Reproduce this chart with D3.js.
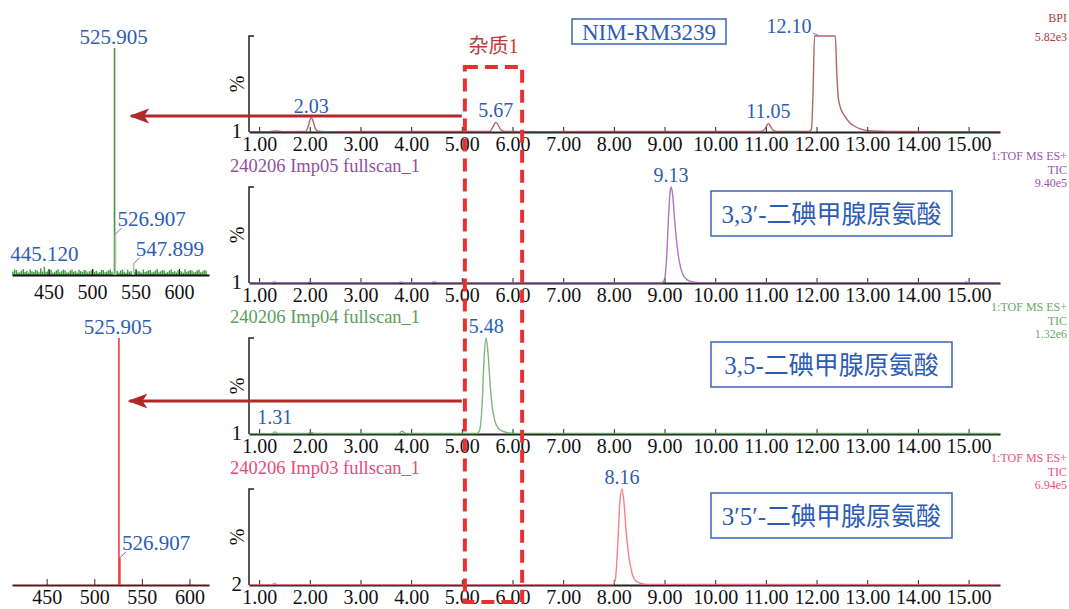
<!DOCTYPE html>
<html>
<head>
<meta charset="utf-8">
<script src="https://cdn.jsdelivr.net/npm/d3@7"></script>
<style>
  body { margin: 0; background: #fff; }
  svg { display: block; }
</style>
</head>
<body>
<svg width="1069" height="609"></svg>
<script>
// ---- data ----
const rtTicks = [1, 2, 3, 4, 5, 6, 7, 8, 9, 10, 11, 12, 13, 14, 15];
const msTicks = [450, 500, 550, 600];

// retention time (min), intensity (%)
const bpiTrace = [
  [0.82, 0.4], [1.2, 0.4], [1.35, 1.2], [1.45, 0.4], [1.92, 0.5], [1.97, 6], [2.0, 12], [2.03, 15],
  [2.06, 12], [2.1, 5], [2.16, 0.8], [2.3, 0.4], [4.5, 0.5], [5.55, 0.5], [5.6, 4], [5.64, 8],
  [5.67, 10], [5.71, 8], [5.76, 3], [5.83, 0.6], [6.5, 0.4], [9.0, 0.5], [10.9, 0.5], [10.98, 3],
  [11.02, 7], [11.05, 9], [11.09, 6], [11.14, 2], [11.22, 0.6], [11.85, 0.6], [11.9, 3], [11.93, 40],
  [11.96, 100], [12.37, 100], [12.4, 60], [12.43, 35], [12.48, 24], [12.55, 17], [12.65, 10],
  [12.75, 6], [12.85, 3.5], [12.95, 2], [13.1, 1], [13.4, 0.5], [15.6, 0.4]
];
const imp05Trace = [
  [0.82, 0.3], [1.25, 0.3], [1.3, 1.2], [1.36, 0.3], [1.95, 0.3], [2.0, 1.0], [2.06, 0.3],
  [3.75, 0.3], [3.8, 1.0], [3.86, 0.3], [4.4, 0.3], [4.45, 1.2], [4.52, 0.3], [8.95, 0.3],
  [9.0, 4], [9.04, 25], [9.08, 70], [9.11, 95], [9.13, 100], [9.16, 92], [9.2, 65], [9.25, 38],
  [9.3, 20], [9.36, 9], [9.44, 3.5], [9.55, 1.2], [9.7, 0.4], [14.9, 0.4], [14.95, 1.0],
  [15.0, 0.4], [15.6, 0.3]
];
const imp04Trace = [
  [0.82, 0.4], [1.25, 0.4], [1.31, 2.2], [1.38, 0.5], [1.95, 0.5], [2.02, 2.0], [2.1, 0.5],
  [3.75, 0.5], [3.82, 2.8], [3.9, 0.5], [5.3, 0.5], [5.35, 4], [5.4, 30], [5.44, 80], [5.48, 100],
  [5.52, 82], [5.56, 50], [5.6, 28], [5.65, 14], [5.72, 6], [5.8, 3], [5.9, 1.5], [6.05, 0.6],
  [15.6, 0.5]
];
const imp03Trace = [
  [0.82, 0.4], [1.25, 0.4], [1.3, 1.5], [1.36, 0.4], [7.98, 0.4], [8.03, 6], [8.08, 45],
  [8.12, 88], [8.16, 100], [8.2, 86], [8.24, 58], [8.29, 32], [8.35, 14], [8.42, 5], [8.52, 1.8],
  [8.65, 0.6], [15.6, 0.4]
];

// labelled peaks: retention time, intensity (%)
const bpiPeaks = [[2.03, 15], [5.67, 10], [11.05, 9], [12.10, 100]];
const imp05Peaks = [[9.13, 100]];
const imp04Peaks = [[1.31, 2.2], [5.48, 100]];
const imp03Peaks = [[8.16, 100]];

const traceTitles = [null, "240206 Imp05 fullscan_1", "240206 Imp04 fullscan_1", "240206 Imp03 fullscan_1"];
const traceHeaders = [
  ["BPI", "5.82e3"],
  ["1:TOF MS ES+", "TIC", "9.40e5"],
  ["1:TOF MS ES+", "TIC", "1.32e6"],
  ["1:TOF MS ES+", "TIC", "6.94e5"]
];
const yLabels = ["1", "1", "1", "2"];
const compoundNames = [null, "3,3′-二碘甲腺原氨酸", "3,5-二碘甲腺原氨酸", "3′5′-二碘甲腺原氨酸"];

// mass spectra: m/z, intensity (%)
const msTopPeaks = [[525.905, 100], [526.907, 18], [547.899, 5]];
const msTopNoise = [
  [409, 1.5], [411, 2.4], [413, 2.2], [415, 1.1], [417, 1.2], [419, 2.0], [421, 2.6], [423, 1.3],
  [425, 1.8], [427, 1.0], [429, 2.4], [431, 1.6], [433, 1.3], [435, 2.2], [437, 2.0], [439, 1.2],
  [441, 3.0], [443, 1.5], [445.12, 3.6], [447, 1.4], [449, 1.6], [451, 2.3], [453, 2.2], [455, 1.0],
  [457, 1.4], [459, 2.0], [461, 2.5], [463, 1.2], [465, 1.7], [467, 2.4], [469, 2.1], [471, 1.1],
  [473, 1.2], [475, 2.0], [477, 2.4], [479, 1.4], [481, 1.8], [483, 1.0], [485, 2.3], [487, 1.7],
  [489, 1.4], [491, 2.2], [493, 2.0], [495, 1.1], [497, 1.6], [499, 2.0], [501, 2.5], [503, 1.3],
  [505, 1.9], [507, 1.0], [509, 1.3], [511, 2.3], [513, 2.2], [515, 1.2], [517, 1.5], [519, 2.1],
  [521, 2.4], [523, 1.4], [529, 1.8], [531, 1.1], [533, 2.0], [535, 2.4], [537, 1.4], [539, 1.0],
  [541, 2.3], [543, 1.5], [545, 1.6], [549, 1.2], [551, 2.1], [553, 1.6], [555, 1.5], [557, 1.0],
  [559, 2.4], [561, 1.3], [563, 1.7], [565, 2.1], [567, 2.2], [569, 1.1], [571, 1.4], [573, 2.0],
  [575, 2.6], [577, 1.2], [579, 1.6], [581, 2.2], [583, 2.0], [585, 1.0], [587, 1.3], [589, 2.0],
  [591, 2.4], [593, 1.3], [595, 1.7], [597, 1.1], [599, 2.2], [601, 1.8], [603, 1.5], [605, 1.0],
  [607, 2.5], [609, 1.4], [611, 1.8], [613, 2.2], [615, 2.0], [617, 1.1], [619, 1.4], [621, 2.0],
  [623, 2.3], [625, 1.2], [627, 1.6], [629, 2.1], [631, 2.0]
];
const msBottomPeaks = [[525.905, 100], [526.907, 11]];

// ---- layout ----
const serif = "'Liberation Serif', 'Times New Roman', serif";
const cjk = "'Liberation Serif', 'Noto Sans CJK SC', serif";
const blue = "#2d5cb5";

const svg = d3.select("svg");

const xScale = d3.scaleLinear().domain([0.8, 15.62]).range([249, 1000]);
const panelTops = [36, 187, 338, 489];
const panelH = 96;

const traces = [bpiTrace, imp05Trace, imp04Trace, imp03Trace];
const peaks = [bpiPeaks, imp05Peaks, imp04Peaks, imp03Peaks];
const traceColors = ["#a8474d", "#9d5fb0", "#66a866", "#f06a7c"];
const headerColors = ["#b03a3a", "#9a55aa", "#6aa86a", "#f0507a"];
const titleColors = [null, "#9050a0", "#5c9c5c", "#e84a78"];

traces.forEach((trace, i) => {
  const top = panelTops[i];
  const base = top + panelH;
  const yScale = d3.scaleLinear().domain([0, 100]).range([base, top]);
  const g = svg.append("g");

  // y axis line with little cap at top
  g.append("path")
    .attr("d", `M${xScale.range()[0] + 5},${top} H${xScale.range()[0]} V${base}`)
    .attr("fill", "none").attr("stroke", "#222").attr("stroke-width", 1.5);

  // x axis
  const xAxis = d3.axisBottom(xScale)
    .tickValues(rtTicks)
    .tickSize(-5)
    .tickPadding(5)
    .tickSizeOuter(0)
    .tickFormat(d => d.toFixed(2));
  const ax = g.append("g")
    .attr("transform", `translate(0, ${base})`)
    .call(xAxis);
  ax.select(".domain").attr("stroke", "#222").attr("stroke-width", 2);
  ax.selectAll(".tick line").attr("stroke", "#222");
  ax.selectAll(".tick text")
    .attr("font-family", serif).attr("font-size", 20).attr("fill", "#111")
    .attr("dy", "0.71em");

  // trace
  const line = d3.line()
    .x(d => xScale(d[0]))
    .y(d => yScale(d[1]))
    .curve(d3.curveMonotoneX);
  g.append("path")
    .datum(trace)
    .attr("d", line)
    .attr("fill", "none")
    .attr("stroke", traceColors[i])
    .attr("stroke-opacity", 0.85)
    .attr("stroke-width", 1.4);

  // y labels
  g.append("text")
    .attr("x", 242).attr("y", base + 6)
    .attr("text-anchor", "end")
    .attr("font-family", serif).attr("font-size", 21).attr("fill", "#111")
    .text(yLabels[i]);
  g.append("text")
    .attr("transform", `translate(244, ${top + panelH / 2}) rotate(-90)`)
    .attr("text-anchor", "middle")
    .attr("font-family", serif).attr("font-size", 20).attr("fill", "#111")
    .text("%");

  // peak labels
  peaks[i].forEach(p => {
    const px = xScale(p[0]);
    const py = yScale(p[1]);
    if (p[0] === 12.10) {
      g.append("text")
        .attr("x", px - 10).attr("y", py - 3)
        .attr("text-anchor", "end")
        .attr("font-family", serif).attr("font-size", 20).attr("fill", blue)
        .text(p[0].toFixed(2));
      g.append("line")
        .attr("x1", px - 9).attr("y1", py - 3).attr("x2", px - 2).attr("y2", py)
        .attr("stroke", "#7080c0").attr("stroke-width", 1);
    } else {
      g.append("text")
        .attr("x", px).attr("y", py - (p[1] < 5 ? 8 : 5))
        .attr("text-anchor", "middle")
        .attr("font-family", serif).attr("font-size", 20).attr("fill", blue)
        .text(p[0].toFixed(2));
    }
  });

  // title above panel
  if (traceTitles[i]) {
    g.append("text")
      .attr("x", 230).attr("y", top - 15)
      .attr("font-family", serif).attr("font-size", 18.5).attr("fill", titleColors[i])
      .text(traceTitles[i]);
  }

  // header at right, stacked lines
  const hdr = traceHeaders[i];
  const step = i === 0 ? 19 : 13.5;
  const firstY = i === 0 ? 22 : top - step * (hdr.length - 1);
  hdr.forEach((t, k) => {
    g.append("text")
      .attr("x", 1067).attr("y", firstY + k * step)
      .attr("text-anchor", "end")
      .attr("font-family", serif).attr("font-size", 12).attr("fill", headerColors[i])
      .text(t);
  });

  // compound name box
  if (compoundNames[i]) {
    const bx = 711, bw = 241, bh = 45;
    const by = top + 4;
    g.append("rect")
      .attr("x", bx).attr("y", by).attr("width", bw).attr("height", bh)
      .attr("fill", "#fff").attr("stroke", "#3a66b8").attr("stroke-width", 1.5);
    g.append("text")
      .attr("x", bx + bw / 2).attr("y", by + bh / 2 + 9)
      .attr("text-anchor", "middle")
      .attr("font-family", cjk).attr("font-size", 25).attr("fill", blue)
      .text(compoundNames[i]);
  }
});

// NIM-RM3239 box
svg.append("rect")
  .attr("x", 572).attr("y", 19).attr("width", 154).attr("height", 25)
  .attr("fill", "#fff").attr("stroke", "#3a66b8").attr("stroke-width", 1.5);
svg.append("text")
  .attr("x", 649).attr("y", 40)
  .attr("text-anchor", "middle")
  .attr("font-family", serif).attr("font-size", 23).attr("fill", blue)
  .text("NIM-RM3239");

// ---- mass spectra ----
function drawSpectrum(opts) {
  const xs = d3.scaleLinear().domain(opts.domain).range([12, 209]);
  const ys = d3.scaleLinear().domain([0, 100]).range([opts.base, opts.top]);
  const g = svg.append("g");

  if (opts.noise) {
    g.selectAll(".noise")
      .data(opts.noise)
      .join("line")
      .attr("x1", d => xs(d[0])).attr("x2", d => xs(d[0]))
      .attr("y1", ys(0)).attr("y2", d => ys(d[1]))
      .attr("stroke", opts.color).attr("stroke-width", 1.4);
  }

  const axis = d3.axisBottom(xs)
    .tickValues(msTicks)
    .tickSize(-6)
    .tickPadding(opts.tickPad)
    .tickSizeOuter(0);
  const ax = g.append("g")
    .attr("transform", `translate(0, ${opts.base})`)
    .call(axis);
  ax.select(".domain").attr("stroke", opts.axisColor).attr("stroke-width", 2);
  ax.selectAll(".tick line").attr("stroke", opts.axisColor);
  ax.selectAll(".tick text")
    .attr("font-family", serif).attr("font-size", 20).attr("fill", "#111")
    .attr("dy", "0.71em");

  g.selectAll(".peak")
    .data(opts.peaks)
    .join("line")
    .attr("x1", d => xs(d[0])).attr("x2", d => xs(d[0]))
    .attr("y1", ys(0)).attr("y2", d => ys(d[1]))
    .attr("stroke", (d, k) => k === 0 ? opts.color : opts.minorColor)
    .attr("stroke-width", 1.6);

  opts.peaks.forEach((p, k) => {
    const px = xs(p[0]), py = ys(p[1]);
    if (k === 0) {
      g.append("text")
        .attr("x", px - 1).attr("y", py - 4)
        .attr("text-anchor", "middle")
        .attr("font-family", serif).attr("font-size", 21).attr("fill", blue)
        .text(p[0].toFixed(3));
    } else {
      g.append("line")
        .attr("x1", px).attr("y1", py).attr("x2", px + 6).attr("y2", py - 6)
        .attr("stroke", "#6a70b0").attr("stroke-width", 1);
      g.append("text")
        .attr("x", px + 2).attr("y", py - 8)
        .attr("font-family", serif).attr("font-size", 21).attr("fill", blue)
        .text(p[0].toFixed(3));
    }
  });

  if (opts.noiseLabel) {
    const nl = opts.noiseLabel;
    g.append("text")
      .attr("x", xs(nl[0])).attr("y", ys(nl[1]) - 6)
      .attr("text-anchor", "middle")
      .attr("font-family", serif).attr("font-size", 21).attr("fill", blue)
      .text(nl[0].toFixed(3));
  }
  return xs;
}

const xsTop = drawSpectrum({
  domain: [408, 634.5], base: 275, top: 48, tickPad: 10,
  peaks: msTopPeaks, noise: msTopNoise, noiseLabel: msTopNoise.find(d => d[0] === 445.12),
  color: "#3f9a3f", minorColor: "#a8c8a8", axisColor: "#111"
});
const xsBottom = drawSpectrum({
  domain: [413.6, 620.5], base: 585, top: 338, tickPad: 5,
  peaks: msBottomPeaks, noise: null,
  color: "#f03a3a", minorColor: "#f03a3a", axisColor: "#5a1a1a"
});

// ---- impurity box and arrows ----
const boxT = [5.06, 6.19];
svg.append("rect")
  .attr("x", xScale(boxT[0])).attr("y", 67)
  .attr("width", xScale(boxT[1]) - xScale(boxT[0])).attr("height", 535)
  .attr("fill", "none")
  .attr("stroke", "#e83030").attr("stroke-width", 4)
  .attr("stroke-dasharray", "13,7");
svg.append("text")
  .attr("x", (xScale(boxT[0]) + xScale(boxT[1])) / 2).attr("y", 53)
  .attr("text-anchor", "middle")
  .attr("font-family", cjk).attr("font-size", 20).attr("fill", "#c0393b")
  .text("杂质1");

svg.append("defs").append("marker")
  .attr("id", "head")
  .attr("viewBox", "0 -8 20 16")
  .attr("refX", 18).attr("refY", 0)
  .attr("markerWidth", 20).attr("markerHeight", 16)
  .attr("markerUnits", "userSpaceOnUse")
  .attr("orient", "auto")
  .append("path")
  .attr("d", "M20,0 L0,-7.5 L5,0 L0,7.5 Z")
  .attr("fill", "#b02828");

const arrows = [
  { y: 116, from: xScale(5.0), to: xsTop(545) },
  { y: 401, from: xScale(5.0), to: xsBottom(537) }
];
svg.selectAll(".arrow")
  .data(arrows)
  .join("line")
  .attr("x1", d => d.from).attr("x2", d => d.to)
  .attr("y1", d => d.y).attr("y2", d => d.y)
  .attr("stroke", "#b02828").attr("stroke-width", 3)
  .attr("marker-end", "url(#head)");
</script>
</body>
</html>
